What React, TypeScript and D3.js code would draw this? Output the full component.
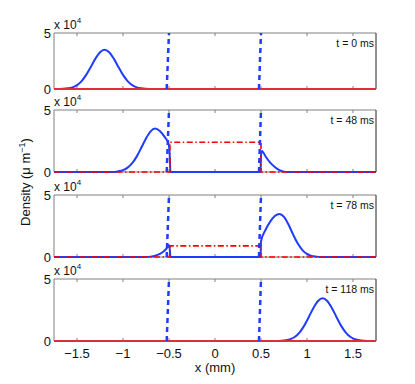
import * as d3 from 'd3';

// x positions (mm) and densities (x 10^4 per um)
const xTicks = [-1.5, -1, -0.5, 0, 0.5, 1, 1.5];
const xTickLabels = ['\u22121.5', '\u22121', '\u22120.5', '0', '0.5', '1', '1.5'];
const yTicks = [0, 5];
const timeLabels = ['t = 0 ms', 't = 48 ms', 't = 78 ms', 't = 118 ms'];

const blue0: [number, number][] = [
  [-1.75, 0], [-1.65, 0.02], [-1.6, 0.06], [-1.55, 0.15], [-1.5, 0.35], [-1.45, 0.71],
  [-1.4, 1.26], [-1.35, 1.97], [-1.3, 2.71], [-1.25, 3.28], [-1.2, 3.5], [-1.15, 3.28],
  [-1.1, 2.71], [-1.05, 1.97], [-1.0, 1.26], [-0.95, 0.71], [-0.9, 0.35], [-0.85, 0.15],
  [-0.8, 0.06], [-0.75, 0.02], [-0.7, 0], [1.75, 0],
];
const blue48: [number, number][] = [
  [-1.75, 0], [-1.1, 0], [-1.05, 0.06], [-1.0, 0.15], [-0.95, 0.35], [-0.9, 0.71],
  [-0.85, 1.26], [-0.8, 1.97], [-0.75, 2.71], [-0.7, 3.28], [-0.65, 3.5], [-0.6, 3.3],
  [-0.55, 2.85], [-0.505, 2.3], [-0.49, 1.0], [-0.485, 0], [0.495, 0], [0.5, 1.3],
  [0.51, 1.7], [0.55, 1.25], [0.6, 0.75], [0.65, 0.4], [0.7, 0.15], [0.75, 0.03],
  [0.78, 0], [1.75, 0],
];
const blue78: [number, number][] = [
  [-1.75, 0], [-0.75, 0], [-0.7, 0.03], [-0.65, 0.1], [-0.6, 0.25], [-0.55, 0.5],
  [-0.52, 0.75], [-0.5, 0.97], [-0.49, 0.5], [-0.485, 0], [0.495, 0], [0.5, 1.25],
  [0.55, 2.2], [0.6, 2.85], [0.65, 3.3], [0.7, 3.47], [0.75, 3.24], [0.8, 2.6],
  [0.85, 1.8], [0.9, 1.08], [0.95, 0.56], [1.0, 0.25], [1.05, 0.09], [1.1, 0.03],
  [1.15, 0], [1.75, 0],
];
const blue118: [number, number][] = [
  [-1.75, 0], [0.67, 0], [0.72, 0.02], [0.77, 0.06], [0.82, 0.15], [0.87, 0.34],
  [0.92, 0.7], [0.97, 1.24], [1.02, 1.94], [1.07, 2.67], [1.12, 3.23], [1.17, 3.45],
  [1.22, 3.23], [1.27, 2.67], [1.32, 1.94], [1.37, 1.24], [1.42, 0.7], [1.47, 0.34],
  [1.52, 0.15], [1.57, 0.06], [1.62, 0.02], [1.67, 0], [1.75, 0],
];

const red0: [number, number][] = [[-1.75, 0], [1.75, 0]];
const red48: [number, number][] = [[-1.75, 0], [-0.49, 0], [-0.49, 2.4], [0.5, 2.4], [0.5, 0], [1.75, 0]];
const red78: [number, number][] = [[-1.75, 0], [-0.49, 0], [-0.49, 0.9], [0.5, 0.9], [0.5, 0], [1.75, 0]];
const red118: [number, number][] = [[-1.75, 0], [1.75, 0]];

const wallLeft: [number, number][] = [[-0.525, 0], [-0.5, 5]];
const wallRight: [number, number][] = [[0.478, 0], [0.5, 5]];

const panels = [
  { blue: blue0, red: red0, redSolid: true, label: timeLabels[0] },
  { blue: blue48, red: red48, redSolid: false, label: timeLabels[1] },
  { blue: blue78, red: red78, redSolid: false, label: timeLabels[2] },
  { blue: blue118, red: red118, redSolid: true, label: timeLabels[3] },
];

const W = 415;
const H = 384;
const left = 54;
const right = 376;
const tops = [33, 110, 195, 279];
const bottoms = [89, 172, 257, 341];
const font = 'Liberation Sans, Arial, sans-serif';
const BLUE = '#1f3cff';

export default function App() {
  const x = d3.scaleLinear().domain([-1.75, 1.75]).range([left, right]);

  return (
    <svg width={W} height={H} style={{ position: 'absolute', left: 0, top: 0, background: '#fff' }} fontFamily={font}>
      {panels.map((p, i) => {
        const y = d3.scaleLinear().domain([0, 5]).range([bottoms[i], tops[i]]);
        const line = d3.line<[number, number]>().x(d => x(d[0])).y(d => y(d[1]));
        const smooth = d3.line<[number, number]>().x(d => x(d[0])).y(d => y(d[1])).curve(d3.curveMonotoneX);
        const clipId = `clip${i}`;
        return (
          <g key={i}>
            <defs>
              <clipPath id={clipId}>
                <rect x={left} y={tops[i] - 1} width={right - left} height={bottoms[i] - tops[i] + 2} />
              </clipPath>
            </defs>
            {/* frame */}
            <line x1={left} x2={right} y1={tops[i]} y2={tops[i]} stroke="#808080" strokeWidth={1} />
            <line x1={left} x2={left} y1={tops[i]} y2={bottoms[i]} stroke="#808080" strokeWidth={1} />
            <line x1={right} x2={right} y1={tops[i]} y2={bottoms[i]} stroke="#222" strokeWidth={1} />
            <line x1={left} x2={right} y1={bottoms[i]} y2={bottoms[i]} stroke="#808080" strokeWidth={1} />
            {xTicks.map(t => (
              <g key={t} stroke="#808080" strokeWidth={1}>
                <line x1={x(t)} x2={x(t)} y1={tops[i]} y2={tops[i] + 3} />
                <line x1={x(t)} x2={x(t)} y1={bottoms[i]} y2={bottoms[i] - 3} />
              </g>
            ))}
            {yTicks.map(t => (
              <text key={t} x={left - 3} y={y(t)} dy="0.36em" textAnchor="end" fontSize={13} fill="#111">{t}</text>
            ))}
            <text x={left} y={tops[i] - 4} fontSize={12} fill="#111">
              x 10<tspan dy={-6} fontSize={8}>4</tspan>
            </text>
            <g clipPath={`url(#${clipId})`} fill="none">
              <path d={smooth(p.blue) ?? ''} stroke={BLUE} strokeWidth={2} />
              {p.redSolid ? (
                <path d={line(p.red) ?? ''} stroke="#e02c3c" strokeWidth={1.8} />
              ) : (
                <path d={line(p.red) ?? ''} stroke="#ff0000" strokeWidth={1.6} strokeDasharray="6 2.5 1.5 2.5" />
              )}
              <path d={line(wallLeft) ?? ''} stroke={BLUE} strokeWidth={2.5} strokeDasharray="5 4" />
              <path d={line(wallRight) ?? ''} stroke={BLUE} strokeWidth={2.5} strokeDasharray="5 4" />
            </g>
            <text x={right - 2} y={tops[i] + 14} textAnchor="end" fontSize={10.5} fill="#111">{p.label}</text>
          </g>
        );
      })}
      {xTicks.map((t, j) => (
        <text key={t} x={x(t)} y={358} textAnchor="middle" fontSize={13} fill="#111">{xTickLabels[j]}</text>
      ))}
      <text x={x(0)} y={372} textAnchor="middle" fontSize={13} fill="#111">x (mm)</text>
      <text transform={`translate(30,182) rotate(-90)`} textAnchor="middle" fontSize={13} fill="#111">
        Density (μ m<tspan dy={-5} fontSize={9}>−1</tspan><tspan dy={5}>)</tspan>
      </text>
    </svg>
  );
}
